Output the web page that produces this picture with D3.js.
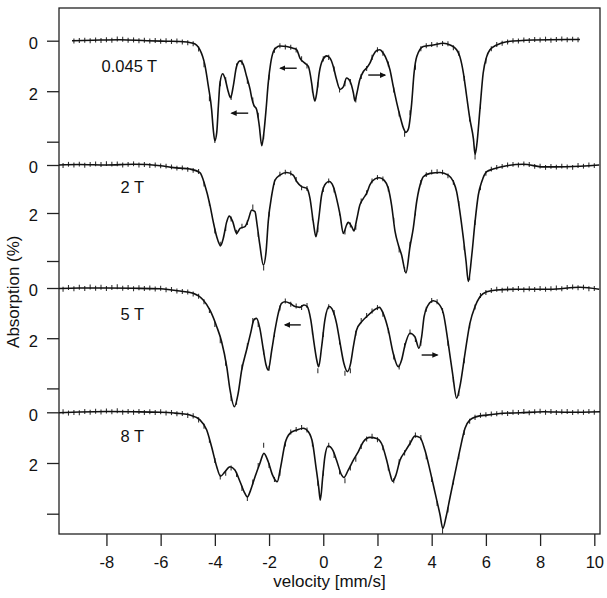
<!DOCTYPE html>
<html>
<head>
<meta charset="utf-8">
<script src="https://d3js.org/d3.v7.min.js"></script>
<style>
  body { margin: 0; background: #fff; }
  svg text { font-family: "Liberation Sans", Arial, sans-serif; fill: #111; }
</style>
</head>
<body>
<svg id="chart" width="607" height="598"></svg>
<script>
// ---- data ----
const fieldLabels = ["0.045 T", "2 T", "5 T", "8 T"];
const xTicks = [-8, -6, -4, -2, 0, 2, 4, 6, 8, 10];
const yTicks = [0, 2, 4];

// measured spectra: first channel velocity, channel step (mm/s), absorption (%)
const dataStart = [-9.2, -9.6, -9.6, -9.6];
const dataStep = 0.2;
const errBar = 0.1;

const data045 = [0.01, -0.01, -0.02, 0.0, -0.03, -0.01, -0.04, -0.02, -0.07, -0.06, -0.02, -0.03, 0.0, -0.02, 0.01, -0.01, 0.02, 0.0, 0.03, 0.01,
  0.05, 0.08, 0.12, 0.33, 0.95, 2.3, 3.95, 1.7, 1.55, 2.25, 1.0, 0.85, 1.6, 2.35, 2.95, 3.8, 1.45, 0.38, 0.2, 0.25,
  0.26, 0.37, 0.72, 1.0, 1.95, 1.75, 0.72, 0.66, 1.12, 1.95, 1.7, 1.62, 2.35, 1.42, 1.1, 0.66, 0.36, 0.5, 0.92, 1.95,
  2.9, 3.7, 2.85, 1.05, 0.32, 0.2, 0.15, 0.16, 0.11, 0.12, 0.28, 0.5, 1.5, 3.1, 4.6, 2.6, 0.8, 0.32, 0.15, 0.1,
  0.05, 0.0, 0.01, -0.03, -0.01, -0.05, -0.03, -0.06, -0.02, -0.05, -0.07, -0.04, -0.06, -0.04];

const data2 = [0.02, -0.03, 0.0, -0.04, 0.01, -0.03, -0.05, -0.02, -0.06, -0.04, -0.05, 0.0, -0.03, -0.05, 0.0, -0.02, 0.02, 0.0, 0.04, 0.05,
  0.08, 0.13, 0.12, 0.18, 0.22, 0.27, 0.8, 1.6, 2.75, 3.3, 2.65, 2.25, 2.8, 2.55, 2.4, 1.75, 2.9, 4.3, 2.05, 0.72,
  0.38, 0.3, 0.34, 0.6, 0.95, 0.98, 2.2, 2.7, 1.02, 0.66, 1.05, 2.0, 2.8, 2.5, 2.6, 1.5, 1.15, 0.66, 0.52, 0.58,
  1.0, 2.3, 3.55, 4.35, 3.3, 2.0, 0.72, 0.4, 0.3, 0.28, 0.3, 0.45, 0.72, 1.6, 3.45, 4.7, 2.4, 0.95, 0.35, 0.17,
  0.1, 0.06, 0.0, -0.03, 0.0, -0.05, -0.02, 0.06, 0.05, 0.1, 0.06, 0.09, 0.05, 0.08, 0.1, 0.02, 0.05, 0.0, 0.03];

const data5 = [0.05, -0.02, 0.03, -0.03, 0.02, -0.04, 0.01, -0.03, 0.02, -0.02, -0.05, 0.01, -0.02, 0.03, -0.01, 0.02, 0.0, 0.04, 0.01, 0.07,
  0.06, 0.12, 0.14, 0.16, 0.24, 0.33, 0.55, 0.9, 1.45, 2.1, 3.0, 4.4, 4.55, 3.15, 2.3, 1.3, 1.45, 2.55, 3.2, 1.85,
  0.8, 0.52, 0.65, 0.72, 0.78, 0.7, 1.75, 3.3, 1.85, 0.75, 0.98, 2.15, 3.4, 3.3, 1.8, 1.3, 1.1, 0.92, 0.78, 1.05,
  1.7, 2.75, 3.15, 2.3, 1.75, 2.05, 2.2, 0.85, 0.5, 0.55, 0.9, 2.2, 3.65, 4.2, 2.9, 1.5, 0.76, 0.3, 0.18, 0.1,
  0.05, 0.09, 0.04, 0.06, 0.02, 0.07, 0.03, 0.06, 0.02, 0.05, 0.03, 0.0, 0.03, -0.02, -0.04, -0.01, -0.03, 0.03, 0.02];

const data8 = [-0.02, 0.03, 0.01, 0.02, -0.03, 0.0, -0.04, -0.01, -0.05, -0.02, -0.06, 0.0, -0.03, 0.0, -0.03, 0.01, -0.02, 0.01, -0.02, 0.03,
  0.01, 0.06, 0.05, 0.12, 0.14, 0.3, 0.55, 1.1, 1.9, 2.55, 2.4, 2.2, 2.45, 3.0, 3.4, 2.75, 2.1, 1.3, 2.1, 2.65,
  2.4, 1.25, 0.78, 0.68, 0.6, 0.7, 1.25, 2.8, 2.4, 1.3, 1.7, 2.35, 2.7, 2.2, 1.85, 1.35, 1.05, 0.95, 1.08, 1.4,
  2.2, 2.7, 1.95, 1.6, 1.2, 0.9, 1.0, 1.75, 2.65, 3.6, 4.7, 3.85, 2.75, 1.75, 0.8, 0.35, 0.2, 0.12, 0.1, 0.07,
  0.06, 0.02, 0.05, 0.0, 0.01, -0.03, 0.02, -0.02, -0.04, 0.0, -0.03, 0.01, -0.02, -0.03, 0.01, -0.02, 0.0, -0.03, 0.0];

// fitted curves: [velocity, absorption]
const fit045 = [[-9.27,0],[-8.5,-0.02],[-7.5,-0.04],[-6.5,0],[-5.8,0.02],[-5.29,0.03],[-4.8,0.1],[-4.55,0.36],[-4.37,0.95],[-4.24,1.8],
  [-4.12,2.72],[-4.06,3.5],[-4.0,3.96],[-3.93,3.63],[-3.87,2.59],[-3.81,1.67],[-3.71,1.31],[-3.63,1.48],[-3.51,2.0],[-3.42,2.26],
  [-3.32,1.8],[-3.2,1.02],[-3.07,0.8],[-2.95,0.95],[-2.83,1.41],[-2.7,1.93],[-2.64,2.26],[-2.56,2.56],[-2.46,2.72],[-2.36,3.37],
  [-2.27,4.16],[-2.19,3.63],[-2.11,2.72],[-2.03,1.67],[-1.94,0.89],[-1.84,0.43],[-1.72,0.26],[-1.6,0.21],[-1.35,0.23],[-1.11,0.3],
  [-0.98,0.36],[-0.86,0.69],[-0.68,0.89],[-0.55,1.02],[-0.43,1.67],[-0.37,2.13],[-0.31,2.39],[-0.24,2.06],[-0.15,1.28],[-0.02,0.76],
  [0.13,0.6],[0.25,0.69],[0.37,1.02],[0.49,1.54],[0.62,1.93],[0.74,1.83],[0.86,1.48],[0.99,1.61],[1.11,2.06],[1.17,2.39],
  [1.23,2.13],[1.35,1.54],[1.48,1.22],[1.6,1.08],[1.72,0.89],[1.85,0.56],[1.97,0.39],[2.09,0.36],[2.21,0.49],[2.34,0.76],
  [2.46,1.15],[2.58,1.8],[2.71,2.45],[2.83,2.98],[2.95,3.44],[3.05,3.63],[3.14,3.5],[3.26,2.5],[3.35,1.28],[3.45,0.63],
  [3.69,0.23],[4.06,0.17],[4.43,0.1],[4.68,0.17],[4.92,0.36],[5.04,0.63],[5.17,1.28],[5.29,2.2],[5.41,3.11],[5.54,3.89],
  [5.6,4.5],[5.66,4.16],[5.78,2.72],[5.9,1.28],[6.03,0.63],[6.15,0.36],[6.4,0.17],[6.77,0.04],[7.74,-0.03],[8.98,-0.05],[9.47,-0.05]];

const fit2 = [[-9.75,0],[-9.0,-0.02],[-8.0,0],[-7.0,-0.03],[-6.0,0.03],[-5.6,0.1],[-5.29,0.13],[-4.92,0.17],[-4.55,0.32],[-4.37,0.83],
  [-4.18,1.67],[-4.06,2.36],[-3.93,2.99],[-3.79,3.36],[-3.69,3.06],[-3.56,2.36],[-3.47,2.13],[-3.34,2.36],[-3.2,2.85],[-3.07,2.64],
  [-2.89,2.57],[-2.77,2.29],[-2.64,1.88],[-2.52,1.94],[-2.44,2.5],[-2.34,3.33],[-2.21,4.17],[-2.11,3.61],[-2.03,2.36],[-1.9,1.25],
  [-1.78,0.63],[-1.6,0.42],[-1.35,0.31],[-1.11,0.42],[-0.98,0.69],[-0.8,0.9],[-0.61,0.97],[-0.49,1.39],[-0.37,2.36],[-0.27,2.99],
  [-0.18,2.36],[-0.06,1.25],[0.1,0.76],[0.22,0.69],[0.37,0.9],[0.49,1.39],[0.62,2.08],[0.74,2.85],[0.86,2.5],[0.92,2.39],
  [1.05,2.57],[1.13,2.75],[1.23,2.29],[1.35,1.67],[1.48,1.39],[1.6,1.18],[1.72,0.83],[1.91,0.58],[2.07,0.53],[2.24,0.63],
  [2.4,0.97],[2.52,1.67],[2.65,2.78],[2.77,3.33],[2.89,3.75],[3.05,4.5],[3.2,3.4],[3.32,2.64],[3.45,1.5],[3.63,0.63],
  [3.69,0.49],[3.94,0.35],[4.31,0.31],[4.61,0.42],[4.8,0.69],[4.92,1.11],[5.04,1.94],[5.17,3.06],[5.27,4.03],[5.35,4.85],
  [5.48,3.75],[5.6,2.36],[5.72,1.25],[5.85,0.69],[6.03,0.28],[6.27,0.17],[6.77,0.03],[7.38,-0.03],[8.12,0.08],[8.98,0.07],[10.18,0]];

const fit5 = [[-9.75,0.02],[-9.0,0],[-8.0,0],[-7.0,0.01],[-6.0,0.03],[-5.6,0.08],[-5.29,0.12],[-4.8,0.21],[-4.43,0.48],[-4.18,0.88],
  [-3.93,1.54],[-3.75,2.14],[-3.56,3.14],[-3.44,4.06],[-3.28,4.73],[-3.14,4.2],[-3.01,3.27],[-2.83,2.47],[-2.68,1.8],[-2.56,1.27],
  [-2.46,1.21],[-2.34,1.61],[-2.21,2.47],[-2.11,3.07],[-2.03,3.27],[-1.9,2.47],[-1.78,1.67],[-1.66,1.01],[-1.54,0.61],[-1.41,0.55],
  [-1.23,0.61],[-1.04,0.74],[-0.86,0.77],[-0.71,0.68],[-0.59,0.74],[-0.46,1.27],[-0.34,2.2],[-0.24,2.87],[-0.17,3.14],[-0.06,2.34],
  [0.06,1.27],[0.22,0.74],[0.37,0.94],[0.49,1.41],[0.62,2.2],[0.76,3.0],[0.89,3.33],[1.01,3.0],[1.11,2.34],[1.23,1.67],
  [1.42,1.34],[1.6,1.14],[1.85,0.9],[2.07,0.77],[2.21,1.01],[2.4,1.67],[2.58,2.6],[2.77,3.14],[2.89,2.87],[3.01,2.3],
  [3.2,1.8],[3.38,1.94],[3.53,2.4],[3.63,1.94],[3.72,1.14],[3.87,0.68],[4.06,0.51],[4.24,0.61],[4.43,1.01],[4.61,2.2],
  [4.77,3.4],[4.92,4.39],[5.04,3.93],[5.23,2.6],[5.41,1.41],[5.6,0.74],[5.78,0.35],[6.03,0.15],[6.4,0.08],[7.14,0.05],
  [8.37,0.05],[9.47,-0.03],[10.18,0.05]];

const fit8 = [[-9.75,0.02],[-9.0,-0.01],[-8.0,-0.03],[-7.0,-0.02],[-6.0,0],[-5.5,0.03],[-5.29,0.05],[-4.92,0.11],[-4.55,0.3],[-4.3,0.7],
  [-4.12,1.36],[-3.93,2.15],[-3.79,2.52],[-3.63,2.35],[-3.44,2.15],[-3.26,2.28],[-3.07,2.74],[-2.89,3.2],[-2.8,3.34],[-2.68,3.07],
  [-2.52,2.55],[-2.34,2.02],[-2.19,1.62],[-2.03,1.95],[-1.87,2.48],[-1.7,2.74],[-1.57,2.15],[-1.41,1.23],[-1.23,0.83],[-0.98,0.7],
  [-0.74,0.63],[-0.55,0.77],[-0.39,1.23],[-0.27,2.15],[-0.17,2.94],[-0.11,3.47],[-0.02,2.55],[0.06,1.75],[0.18,1.33],[0.35,1.49],
  [0.49,1.89],[0.68,2.48],[0.76,2.57],[0.92,2.28],[1.11,1.89],[1.29,1.56],[1.48,1.16],[1.72,0.99],[1.97,1.03],[2.15,1.23],
  [2.34,1.89],[2.46,2.41],[2.56,2.72],[2.68,2.48],[2.83,1.89],[3.01,1.56],[3.2,1.23],[3.38,0.94],[3.57,1.0],[3.75,1.49],
  [3.94,2.3],[4.13,3.2],[4.31,4.05],[4.41,4.58],[4.53,4.13],[4.68,3.34],[4.86,2.41],[5.04,1.49],[5.23,0.63],[5.41,0.3],
  [5.66,0.17],[6.03,0.11],[6.64,0.04],[7.26,0.02],[8.12,-0.02],[9.1,0],[10.21,-0.02]];

// arrows drawn on the spectra: panel, tail velocity, head velocity, absorption level
const arrows = [
  { panel: 0, from: -2.77, to: -3.38, level: 2.87 },
  { panel: 0, from: -0.98, to: -1.58, level: 1.09 },
  { panel: 0, from: 1.66, to: 2.28, level: 1.36 },
  { panel: 2, from: -0.83, to: -1.41, level: 1.47 },
  { panel: 2, from: 3.63, to: 4.21, level: 2.67 },
];

const measured = [data045, data2, data5, data8];
const fits = [fit045, fit2, fit5, fit8];

// ---- layout ----
const frame = { left: 59, right: 600, top: 8, bottom: 534 };
const panelZero = [40.7, 165, 288, 412.3];
const panelUnit = [25.25, 24, 25.1, 25.35];
const labelAt = [[-8.18, 1.22], [-7.48, 1.18], [-7.48, 1.27], [-7.48, 1.16]];

const svg = d3.select("#chart");

const x = d3.scaleLinear().domain([-9.75, 10.21]).range([frame.left, frame.right]);
const yScales = panelZero.map((z, i) =>
  d3.scaleLinear().domain([0, 4]).range([z, z + 4 * panelUnit[i]])
);

// arrow head
svg.append("defs")
  .append("marker")
  .attr("id", "head")
  .attr("viewBox", "0 0 10 10")
  .attr("refX", 8)
  .attr("refY", 5)
  .attr("markerWidth", 4.5)
  .attr("markerHeight", 4.5)
  .attr("orient", "auto")
  .append("path")
  .attr("d", "M0,0.5 L10,5 L0,9.5 z")
  .attr("fill", "#111");

// y axes, one per spectrum
yScales.forEach((y) => {
  const g = svg.append("g")
    .attr("transform", `translate(${frame.left},0)`)
    .call(d3.axisLeft(y).tickValues(yTicks).tickSize(12).tickPadding(9)
      .tickFormat((d) => (d === 4 ? "" : String(d))));
  g.select(".domain").remove();
  g.selectAll("line").attr("stroke", "#222").attr("stroke-width", 1.3);
  g.selectAll("text").attr("dy", "0.48em").style("font-size", "16.5px");
});

// x axis (plain hyphen minus signs, as in the original)
const xg = svg.append("g")
  .attr("transform", `translate(0,${frame.bottom})`)
  .call(d3.axisBottom(x).tickValues(xTicks).tickSize(12).tickPadding(10)
    .tickFormat((d) => String(d)));
xg.select(".domain").remove();
xg.selectAll("line").attr("stroke", "#222").attr("stroke-width", 1.3);
xg.selectAll("text").style("font-size", "16.5px");

// frame
svg.append("rect")
  .attr("x", frame.left)
  .attr("y", frame.top)
  .attr("width", frame.right - frame.left)
  .attr("height", frame.bottom - frame.top)
  .attr("fill", "none")
  .attr("stroke", "#222")
  .attr("stroke-width", 1.3);

// spectra
measured.forEach((vals, i) => {
  const y = yScales[i];
  const pts = vals.map((a, k) => ({ v: dataStart[i] + k * dataStep, a }));

  svg.append("g")
    .selectAll("line")
    .data(pts)
    .enter()
    .append("line")
    .attr("x1", (d) => x(d.v))
    .attr("x2", (d) => x(d.v))
    .attr("y1", (d) => y(d.a - errBar))
    .attr("y2", (d) => y(d.a + errBar))
    .attr("stroke", "#333")
    .attr("stroke-width", 1.1);

  const line = d3.line()
    .x((d) => x(d[0]))
    .y((d) => y(d[1]))
    .curve(d3.curveMonotoneX);

  svg.append("path")
    .datum(fits[i])
    .attr("d", line)
    .attr("fill", "none")
    .attr("stroke", "#111")
    .attr("stroke-width", 1.6);

  svg.append("text")
    .attr("x", x(labelAt[i][0]))
    .attr("y", y(labelAt[i][1]))
    .style("font-size", "16.5px")
    .text(fieldLabels[i]);
});

// arrows
svg.append("g")
  .selectAll("line")
  .data(arrows)
  .enter()
  .append("line")
  .attr("x1", (d) => x(d.from))
  .attr("x2", (d) => x(d.to))
  .attr("y1", (d) => yScales[d.panel](d.level))
  .attr("y2", (d) => yScales[d.panel](d.level))
  .attr("stroke", "#111")
  .attr("stroke-width", 1.4)
  .attr("marker-end", "url(#head)");

// axis titles
svg.append("text")
  .attr("x", (frame.left + frame.right) / 2)
  .attr("y", 586.5)
  .attr("text-anchor", "middle")
  .style("font-size", "17px")
  .text("velocity [mm/s]");

svg.append("text")
  .attr("transform", "translate(18.5,291.7) rotate(-90)")
  .attr("text-anchor", "middle")
  .style("font-size", "17px")
  .text("Absorption (%)");
</script>
</body>
</html>
